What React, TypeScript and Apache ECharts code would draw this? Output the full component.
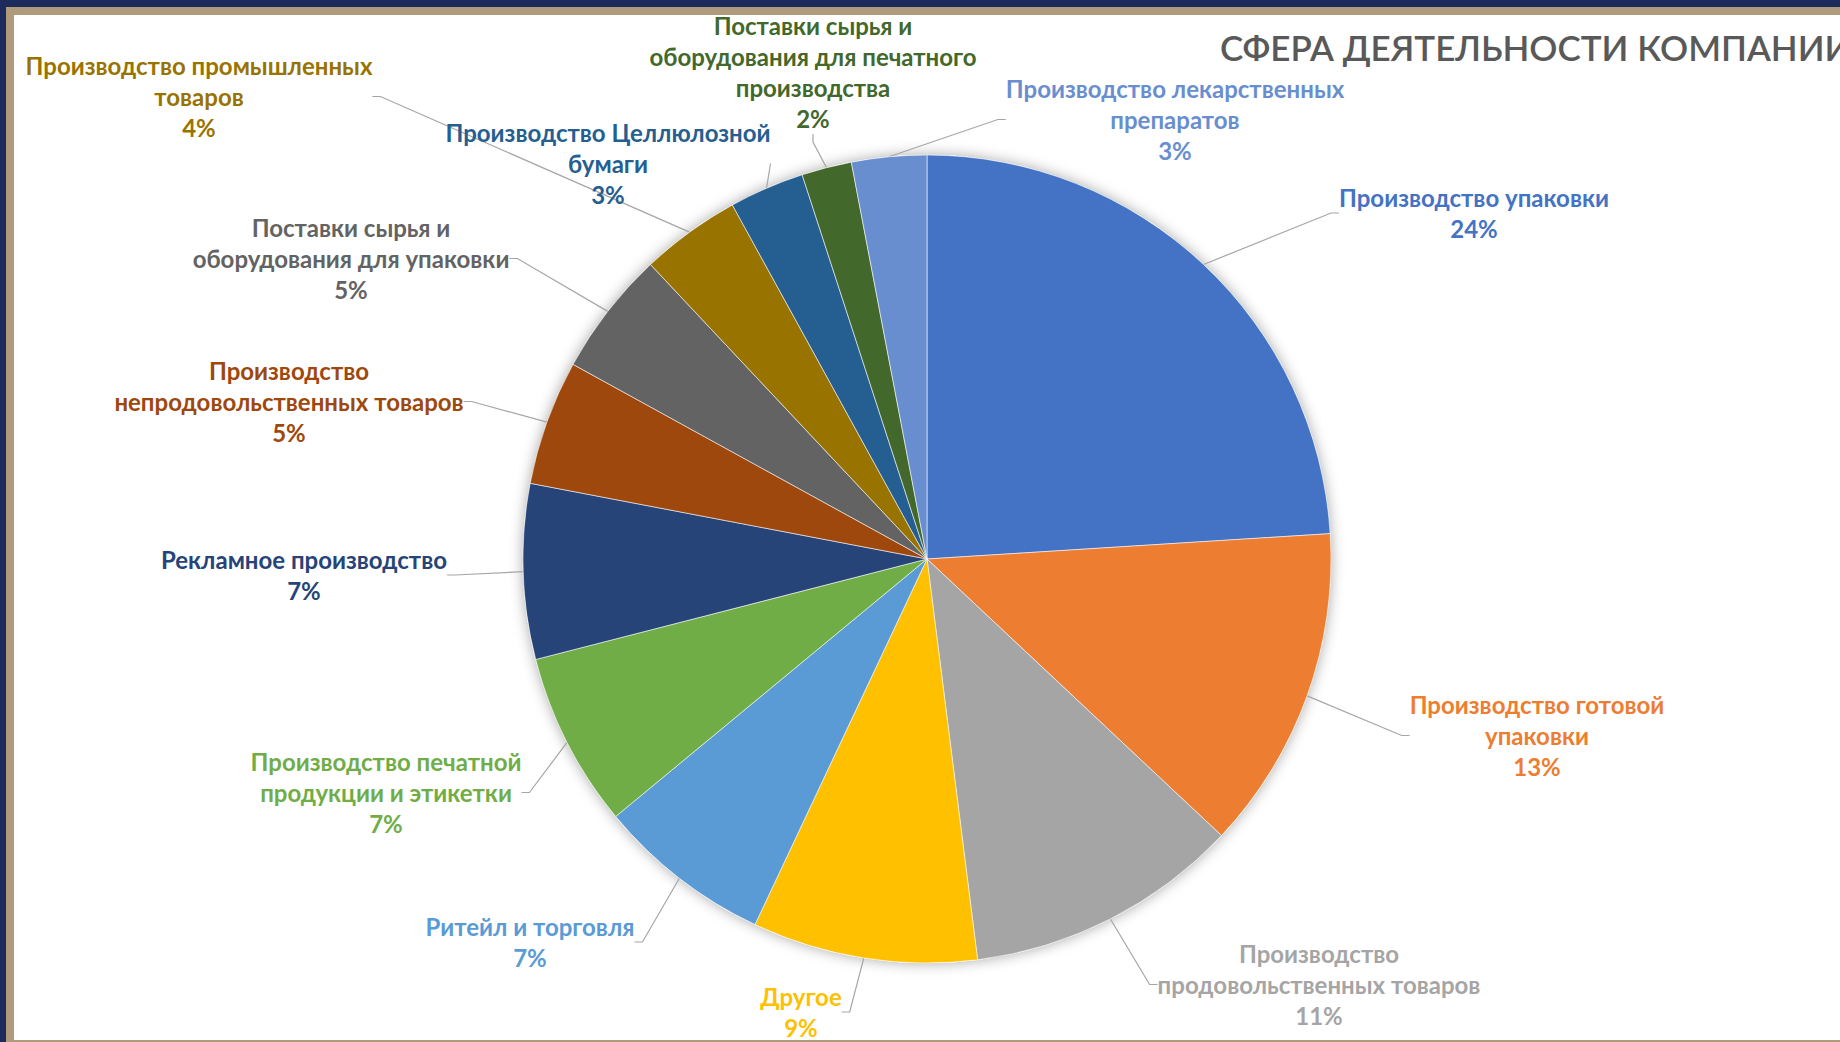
import React, { useEffect, useRef } from "react";
import * as echarts from "echarts";

const categories = [
  "Производство упаковки",
  "Производство готовой\nупаковки",
  "Производство\nпродовольственных товаров",
  "Другое",
  "Ритейл и торговля",
  "Производство печатной\nпродукции и этикетки",
  "Рекламное производство",
  "Производство\nнепродовольственных товаров",
  "Поставки сырья и\nоборудования для упаковки",
  "Производство промышленных\nтоваров",
  "Производство Целлюлозной\nбумаги",
  "Поставки сырья и\nоборудования для печатного\nпроизводства",
  "Производство лекарственных\nпрепаратов",
];

const shares = [24, 13, 11, 9, 7, 7, 7, 5, 5, 4, 3, 2, 3];

const sliceColors = [
  "#4472C4",
  "#ED7D31",
  "#A5A5A5",
  "#FFC000",
  "#5B9BD5",
  "#70AD47",
  "#264478",
  "#9E480E",
  "#636363",
  "#997300",
  "#255E91",
  "#43682B",
  "#698ED0",
];

const titleText = "СФЕРА ДЕЯТЕЛЬНОСТИ КОМПАНИИ";

// label block placement (center x, top y) in page pixels
const labelPlacement = [
  [1474, 182],
  [1537, 689],
  [1319, 938],
  [801, 981],
  [530, 911],
  [386, 746],
  [304, 544],
  [289, 355],
  [351, 212],
  [199, 50],
  [608, 117],
  [813, 10],
  [1175, 73],
];

export default function App() {
  const ref = useRef<HTMLDivElement>(null);

  useEffect(() => {
    if (!ref.current) return;
    const chart = echarts.init(ref.current, undefined, { renderer: "svg" });
    const total = shares.reduce((a, b) => a + b, 0);
    chart.setOption({
      animation: false,
      title: {
        text: titleText,
        left: 1215,
        top: 24,
        textStyle: {
          fontFamily: "Lato",
          fontSize: 35,
          fontWeight: 600,
          color: "#595959",
        },
      },
      series: [
        {
          type: "pie",
          silent: true,
          center: [927, 559],
          radius: 404,
          z: 1,
          label: { show: false },
          labelLine: { show: false },
          itemStyle: {
            color: "#ffffff",
            shadowBlur: 14,
            shadowColor: "rgba(0,0,0,0.35)",
          },
          data: [{ value: total, name: "" }],
        },
        {
          type: "pie",
          center: [927, 559],
          radius: 404,
          startAngle: 90,
          clockwise: true,
          z: 2,
          avoidLabelOverlap: false,
          itemStyle: {
            borderColor: "rgba(255,255,255,0.7)",
            borderWidth: 0.8,
          },
          label: {
            show: true,
            position: "outside",
            fontFamily: "Lato",
            fontWeight: "bold",
            fontSize: 24,
            lineHeight: 31,
            formatter: (p: any) => `${p.name}\n${p.value}%`,
          },
          labelLine: {
            show: true,
            length: 10,
            length2: 8,
            lineStyle: { color: "#A6A6A6", width: 1.2 },
          },
          labelLayout: (params: any) => {
            const pos = labelPlacement[params.dataIndex];
            return { x: pos[0], y: pos[1], align: "center", verticalAlign: "top" };
          },
          data: categories.map((name, i) => ({
            name,
            value: shares[i],
            itemStyle: { color: sliceColors[i] },
            label: { color: sliceColors[i] },
          })),
        },
      ],
    });
    return () => chart.dispose();
  }, []);

  return (
    <div
      style={{
        position: "fixed",
        left: 0,
        top: 0,
        width: 1840,
        height: 1042,
        background: "#1c2a5c",
        overflow: "hidden",
      }}
    >
      <div
        style={{
          position: "absolute",
          left: 6,
          top: 7,
          right: 0,
          bottom: 0,
          background: "#b09a7c",
        }}
      />
      <div
        style={{
          position: "absolute",
          left: 14,
          top: 15,
          right: 0,
          bottom: 2,
          background: "#ffffff",
        }}
      />
      <div
        ref={ref}
        style={{ position: "absolute", left: 0, top: 0, width: 1840, height: 1042 }}
      />
    </div>
  );
}
